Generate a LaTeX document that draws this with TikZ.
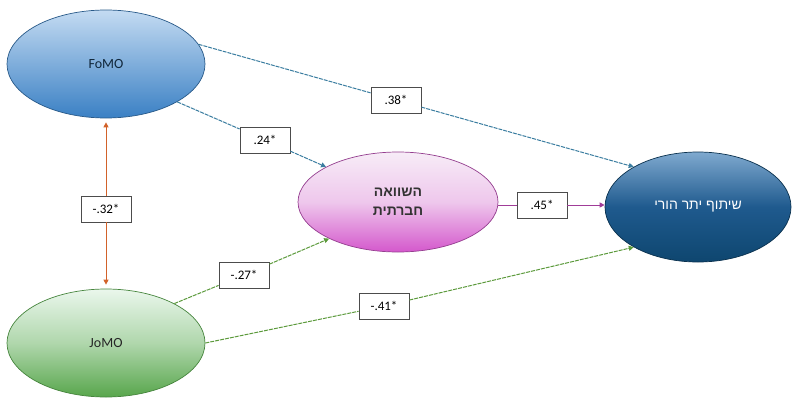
\documentclass[tikz,border=0pt]{standalone}
\usepackage{fontspec}
\setmainfont{Carlito}
\newfontfamily\hebfont[Script=Hebrew]{Liberation Sans}
\TeXXeTstate=1
\usetikzlibrary{shapes.geometric}
\usetikzlibrary{arrows.meta}

\definecolor{fomotop}{HTML}{C4DBF2}
\definecolor{fomobot}{HTML}{3A80C4}
\definecolor{jomotop}{HTML}{EAF7EC}
\definecolor{jomobot}{HTML}{58A64C}
\definecolor{pinktop}{HTML}{F7ECF7}
\definecolor{pinkbot}{HTML}{D458CC}
\definecolor{outtop}{HTML}{7FA9CF}
\definecolor{outmid}{HTML}{1F5A8E}
\definecolor{outbot}{HTML}{0E466F}
\definecolor{bluelink}{HTML}{3A7DA0}
\definecolor{greenlink}{HTML}{5C9A3C}
\definecolor{orangelink}{HTML}{D2622A}
\definecolor{purplelink}{HTML}{A03C98}

\tikzset{
  latent/.style={ellipse, draw, inner sep=0pt, line width=0.7pt,
    minimum width=198pt, minimum height=108pt,
    font=\fontsize{14}{16}\selectfont},
  coef/.style={draw=black!70, fill=white, line width=0.8pt, inner sep=0pt,
    minimum width=50pt, minimum height=26pt,
    font=\fontsize{13}{15}\selectfont},
  tip/.style={-{Triangle[length=5pt,width=5pt]}},
  pathline/.style={line width=1pt, dash pattern=on 4pt off 1pt}
}

\begin{document}
\begin{tikzpicture}[x=1pt, y=-1pt]
    \useasboundingbox (0,0) rectangle (794,399);
    \node[latent, draw=fomobot!70!black, top color=fomotop, bottom color=fomobot,
      text=fomobot!30!black] (fomo) at (106,64) {FoMO};
    \node[latent, draw=jomobot!80!black, top color=jomotop, bottom color=jomobot,
      middle color=jomobot!40!jomotop, text=black!85] (jomo) at (106,343) {JoMO};
    \node[latent, minimum width=200pt, minimum height=100pt, draw=pinkbot!70!black,
      top color=pinktop, bottom color=pinkbot, middle color=pinkbot!25!pinktop,
      font=\hebfont\bfseries\fontsize{14}{19}\selectfont, text=black!80, align=center]
      (social) at (398,202) {\beginR השוואה\endR\\\beginR חברתית\endR};
    \node[latent, minimum width=186pt, minimum height=110pt, draw=outbot!70!black,
      top color=outtop, bottom color=outbot, middle color=outmid,
      font=\hebfont\fontsize{14}{16}\selectfont, text=white]
      (share) at (698,207) {\beginR שיתוף יתר הורי\endR};

    \node[coef] (c38) at (396,100) {.38*};
    \node[coef] (c24) at (265,140) {.24*};
    \node[coef] (c32) at (106,209) {-.32*};
    \node[coef] (c27) at (244,275) {-.27*};
    \node[coef] (c41) at (384,306) {-.41*};
    \node[coef] (c45) at (542,205) {.45*};

    \draw[pathline, bluelink] (fomo.12) -- (c38);
    \draw[pathline, bluelink, tip] (c38) -- (share.148);
    \draw[pathline, bluelink] (fomo.-28) -- (c24);
    \draw[pathline, bluelink, tip] (c24) -- (social.154);
    \draw[line width=1pt, orangelink, tip, shorten >=4pt] (c32) -- (fomo);
    \draw[line width=1pt, orangelink, tip, shorten >=4pt] (c32) -- (jomo);
    \draw[pathline, greenlink] (jomo.30) -- (c27);
    \draw[pathline, greenlink, tip] (c27) -- (social.208);
    \draw[pathline, greenlink] (jomo.east) -- (c41);
    \draw[pathline, greenlink, tip] (c41) -- (share.212);
    \draw[line width=1pt, purplelink] (social.east |- c45) -- (c45);
    \draw[line width=1pt, purplelink, tip] (c45) -- (c45 -| share.west);
  \end{tikzpicture}
\end{document}
